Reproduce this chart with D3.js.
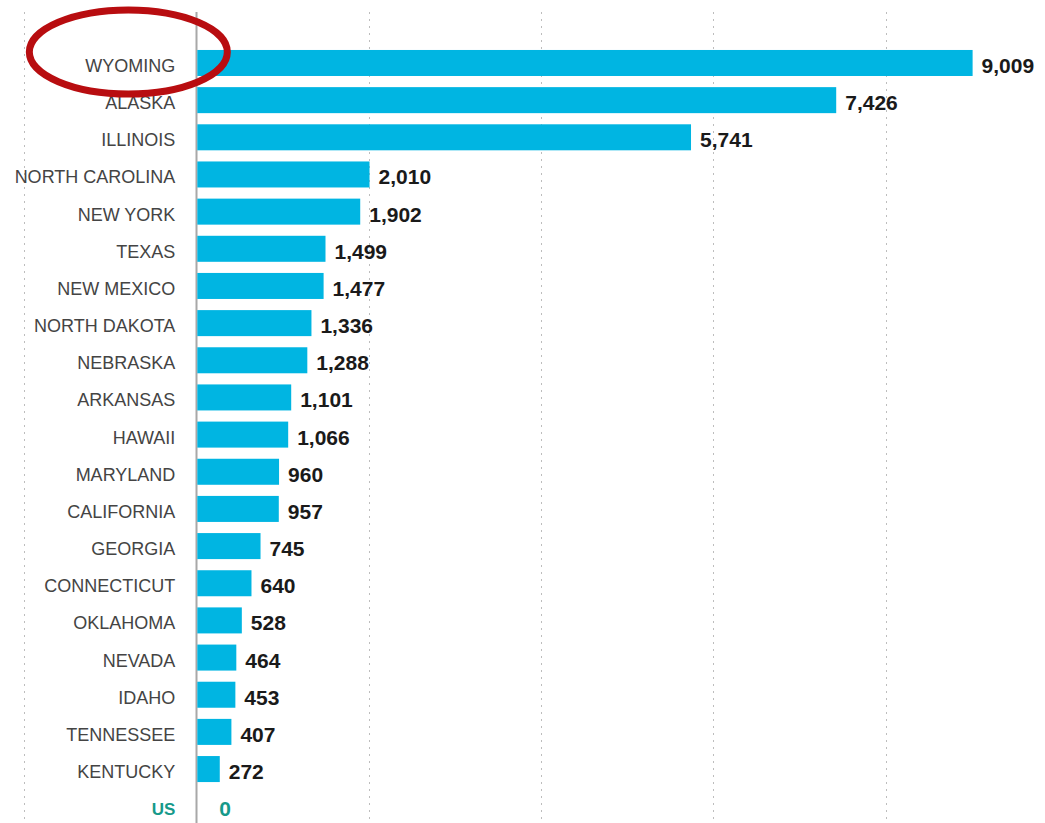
<!DOCTYPE html>
<html>
<head>
<meta charset="utf-8">
<script src="https://cdn.jsdelivr.net/npm/d3@7/dist/d3.min.js"></script>
<style>
  body { margin:0; background:#fff; }
  svg { display:block; }
</style>
</head>
<body>
<svg id="chart" width="1045" height="823"></svg>
<script>
// states and values (top to bottom)
var states = ["WYOMING","ALASKA","ILLINOIS","NORTH CAROLINA","NEW YORK","TEXAS","NEW MEXICO",
  "NORTH DAKOTA","NEBRASKA","ARKANSAS","HAWAII","MARYLAND","CALIFORNIA","GEORGIA",
  "CONNECTICUT","OKLAHOMA","NEVADA","IDAHO","TENNESSEE","KENTUCKY","US"];
var values = [9009,7426,5741,2010,1902,1499,1477,1336,1288,1101,1066,960,957,745,640,528,464,453,407,272,0];
var gridTicks = [-2000,0,2000,4000,6000,8000];
var highlighted = "WYOMING";

var svg = d3.select("#chart");
var fmt = d3.format(",");

var x = d3.scaleLinear().domain([-2000,10000]).range([24,1058]);
var y = d3.scaleBand().domain(states).range([44.4,824.8]).paddingInner(0.3).paddingOuter(0.15);

// grid lines, dotted except the zero line
svg.append("g").selectAll("line")
  .data(gridTicks)
  .enter().append("line")
    .attr("x1", function(d){ return Math.round(x(d)) + 0.5; })
    .attr("x2", function(d){ return Math.round(x(d)) + 0.5; })
    .attr("y1", 12)
    .attr("y2", 823)
    .attr("stroke", function(d){ return d == 0 ? "#a8a8a8" : "#bdbdbd"; })
    .attr("stroke-width", function(d){ return d == 0 ? 2 : 1; })
    .attr("stroke-dasharray", function(d){ return d == 0 ? null : "2,5"; });

var rows = states.map(function(s,i){ return {name:s, value:values[i]}; });

// bars
svg.append("g").selectAll("rect")
  .data(rows.filter(function(d){ return d.value > 0; }))
  .enter().append("rect")
    .attr("x", x(0) + 1)
    .attr("y", function(d){ return y(d.name); })
    .attr("width", function(d){ return x(d.value) - x(0) - 1; })
    .attr("height", y.bandwidth())
    .attr("fill", "#00b5e2");

// state names
svg.append("g").selectAll("text")
  .data(rows)
  .enter().append("text")
    .attr("x", x(0) - 21)
    .attr("y", function(d){ return y(d.name) + y.bandwidth()/2 + 9; })
    .attr("text-anchor", "end")
    .style("font-family", "'Liberation Sans', Arial, sans-serif")
    .style("font-size", function(d){ return d.name == "US" ? "17px" : "18px"; })
    .style("font-weight", function(d){ return d.name == "US" ? "bold" : "normal"; })
    .attr("fill", function(d){ return d.name == "US" ? "#16998a" : "#444"; })
    .text(function(d){ return d.name; });

// value labels
svg.append("g").selectAll("text")
  .data(rows)
  .enter().append("text")
    .attr("x", function(d){ return Math.max(x(d.value) + 9, x(0) + 23); })
    .attr("y", function(d){ return y(d.name) + y.bandwidth()/2 + 10; })
    .style("font-family", "'Liberation Sans', Arial, sans-serif")
    .style("font-size", "21px")
    .style("font-weight", "bold")
    .attr("fill", function(d){ return d.name == "US" ? "#16998a" : "#1a1a1a"; })
    .text(function(d){ return fmt(d.value); });

// red ring drawn round the top state
svg.append("ellipse")
  .attr("cx", x(0) - 68)
  .attr("cy", y(highlighted) + 2)
  .attr("rx", 99)
  .attr("ry", 42)
  .attr("fill", "none")
  .attr("stroke", "#b80d10")
  .attr("stroke-width", 7);
</script>
</body>
</html>
